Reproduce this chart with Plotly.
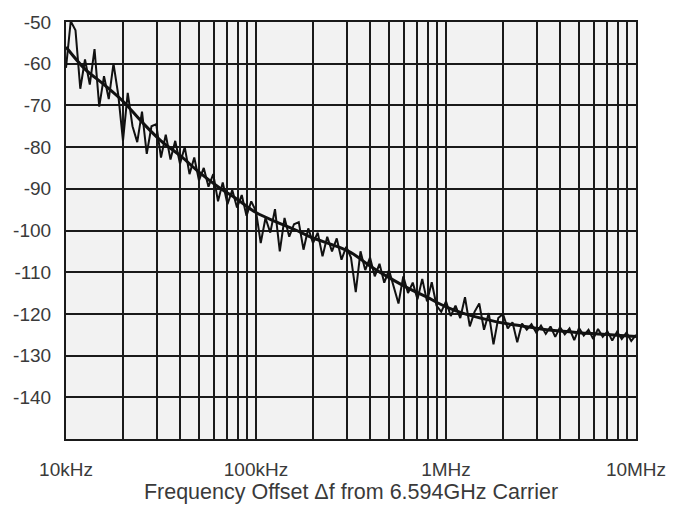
import plotly.graph_objects as go

# ---- data (frequency offset in kHz, phase noise in dBc/Hz) ----
meas_freq_khz = [
    10.0, 10.59, 11.22, 11.89, 12.59, 13.34, 14.13, 14.96, 15.85, 16.79,
    17.78, 18.84, 19.95, 21.13, 22.39, 23.71, 25.12, 26.61, 28.18, 29.85,
    31.62, 33.5, 35.48, 37.58, 39.81, 42.17, 44.67, 47.32, 50.12, 53.09,
    56.23, 59.57, 63.1, 66.83, 70.79, 74.99, 79.43, 84.14, 89.13, 94.41,
    100.0, 105.9, 112.2, 118.9, 125.9, 133.4, 141.3, 149.6, 158.5, 167.9,
    177.8, 188.4, 199.5, 211.3, 223.9, 237.1, 251.2, 266.1, 281.8, 298.5,
    316.2, 335.0, 354.8, 375.8, 398.1, 421.7, 446.7, 473.2, 501.2, 530.9,
    562.3, 595.7, 631.0, 668.3, 707.9, 749.9, 794.3, 841.4, 891.3, 944.1,
    1000.0, 1059.0, 1122.0, 1189.0, 1259.0, 1334.0, 1413.0, 1496.0, 1585.0, 1679.0,
    1778.0, 1884.0, 1995.0, 2113.0, 2239.0, 2371.0, 2512.0, 2661.0, 2818.0, 2985.0,
    3162.0, 3350.0, 3548.0, 3758.0, 3981.0, 4217.0, 4467.0, 4732.0, 5012.0, 5309.0,
    5623.0, 5957.0, 6310.0, 6683.0, 7079.0, 7499.0, 7943.0, 8414.0, 8913.0, 9441.0,
    10000.0,
]
meas_dbc = [
    -61.0, -49.8, -52.0, -66.0, -59.0, -65.0, -56.5, -70.3, -63.0, -68.5,
    -60.0, -67.5, -78.5, -67.0, -75.0, -78.8, -71.5, -81.6, -75.0, -74.5,
    -82.5, -77.0, -83.0, -78.5, -84.0, -80.0, -86.5, -82.5, -88.0, -85.0,
    -89.5, -86.5, -93.0, -88.5, -93.7, -90.3, -94.5, -91.5, -96.5, -93.0,
    -95.4, -103.0, -97.0, -100.5, -94.9, -105.0, -97.0, -101.5, -98.5, -98.0,
    -104.6, -99.5, -103.0, -100.5, -106.2, -101.5, -105.0, -101.9, -107.0, -103.9,
    -106.5, -114.8, -105.0, -109.5, -106.5, -111.0, -108.0, -112.5, -109.5, -113.5,
    -117.5, -111.0, -115.0, -112.5, -116.5, -111.6, -117.0, -112.4, -118.0, -119.5,
    -117.0, -120.5, -118.0, -121.0, -116.0, -123.0, -119.5, -117.5, -123.8, -119.8,
    -127.3, -121.0, -120.0, -123.5, -122.0, -126.8, -122.3, -123.8, -122.5, -124.5,
    -122.8, -124.8, -123.0, -125.5, -123.2, -124.9, -123.5, -126.3, -123.4, -125.2,
    -123.8, -126.0, -123.6, -125.5, -124.2, -126.4, -124.3, -126.0, -124.5, -126.5,
    -125.0,
]
fit_freq_khz = [10, 12.59, 15.85, 19.95, 25.12, 31.62, 39.81, 50.12, 63.1, 79.43,
                100, 125.9, 158.5, 199.5, 251.2, 316.2, 398.1, 501.2, 631.0, 794.3,
                1000, 1259, 1585, 1995, 2512, 3162, 3981, 5012, 6310, 7943, 10000]
fit_dbc = [-56.0, -61.3, -65.0, -69.0, -74.0, -78.5, -82.0, -86.0, -89.5, -92.5,
           -95.7, -97.8, -99.7, -101.8, -103.4, -105.3, -108.5, -111.3, -113.8, -116.0,
           -118.3, -120.0, -121.2, -122.2, -122.9, -123.6, -124.1, -124.5, -124.8, -125.1, -125.4]

x_grid_khz = [10, 20, 30, 40, 50, 60, 70, 80, 90,
              100, 200, 300, 400, 500, 600, 700, 800, 900,
              1000, 2000, 3000, 4000, 5000, 6000, 7000, 8000, 9000, 10000]
x_tick_text = {10: "10kHz", 100: "100kHz", 1000: "1MHz", 10000: "10MHz"}
y_ticks = [-140, -130, -120, -110, -100, -90, -80, -70, -60, -50]

FONT = "Liberation Sans, Arial, sans-serif"
TXT = "#3a3a3a"
GRID = "#1a1a1a"

fig = go.Figure()
fig.add_trace(go.Scatter(x=fit_freq_khz, y=fit_dbc, mode="lines",
                         line=dict(color="#111111", width=3, shape="spline"),
                         hoverinfo="skip", showlegend=False))
fig.add_trace(go.Scatter(x=meas_freq_khz, y=meas_dbc, mode="lines",
                         line=dict(color="#111111", width=2),
                         showlegend=False))

fig.update_layout(
    width=687, height=511,
    margin=dict(l=66, r=51, t=15, b=69),
    paper_bgcolor="white",
    plot_bgcolor="#f2f2f2",
    font=dict(family=FONT, size=19, color=TXT),
)
fig.update_xaxes(
    type="log", range=[1, 4],
    tickvals=x_grid_khz,
    ticktext=[x_tick_text.get(v, "") for v in x_grid_khz],
    showgrid=True, gridcolor=GRID, gridwidth=2.2,
    showline=True, linecolor=GRID, linewidth=2.2, mirror=True,
    ticks="outside", ticklen=12, tickcolor="rgba(0,0,0,0)",
    zeroline=False,
    title=dict(text="Frequency Offset Δf from 6.594GHz Carrier",
               font=dict(family=FONT, size=21.5, color=TXT), standoff=4),
)
fig.update_yaxes(
    range=[-150, -50],
    tickvals=y_ticks,
    ticktext=[str(v) for v in y_ticks],
    showgrid=True, gridcolor=GRID, gridwidth=2.2,
    showline=True, linecolor=GRID, linewidth=2.2, mirror=True,
    ticks="outside", ticklen=9, tickcolor="rgba(0,0,0,0)",
    zeroline=False,
)

fig.write_html("out.html")
